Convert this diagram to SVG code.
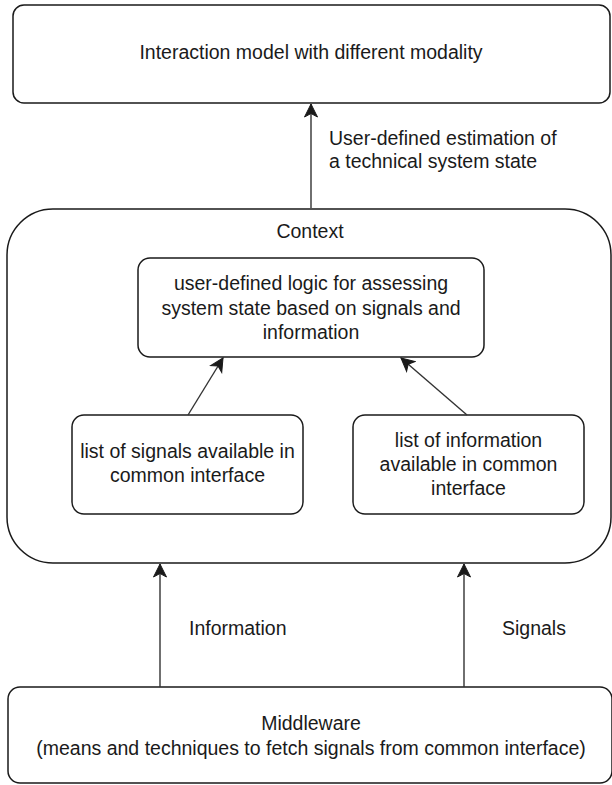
<svg xmlns="http://www.w3.org/2000/svg" width="612" height="785" viewBox="0 0 612 785">
  <defs>
    <style>
      .box { fill: #ffffff; stroke: #1a1a1a; stroke-width: 1.5; }
      .t { font-family: "Liberation Sans", Arial, Helvetica, sans-serif; font-size: 19.5px; fill: #1a1a1a; }
      .c { text-anchor: middle; }
      .edge { fill: none; stroke: #333333; stroke-width: 1.4; }
    </style>
    <marker id="arrow" markerUnits="userSpaceOnUse" markerWidth="16" markerHeight="16" viewBox="-14 -8 16 16" refX="0" refY="0" orient="auto">
      <path d="M0,0 L-13,-6.5 L-9.5,0 L-13,6.5 Z" fill="#1a1a1a" stroke="#1a1a1a" stroke-width="1"/>
    </marker>
  </defs>
  <rect width="612" height="785" fill="#ffffff"/>

  <g id="interaction-model">
    <rect class="box" x="13" y="5" width="597" height="98" rx="11"/>
    <text class="t c" x="311" y="59">Interaction model with different modality</text>
  </g>

  <g id="context">
    <rect class="box" x="7" y="209" width="604" height="354" rx="46"/>
    <text class="t c" x="310" y="238">Context</text>
  </g>

  <g id="logic">
    <rect class="box" x="138" y="258" width="346" height="99" rx="12"/>
    <text class="t c" x="311" y="290">user-defined logic for assessing</text>
    <text class="t c" x="311" y="314.5">system state based on signals and</text>
    <text class="t c" x="311" y="339">information</text>
  </g>

  <g id="signals-list">
    <rect class="box" x="72" y="415" width="231" height="99" rx="12"/>
    <text class="t c" x="187.5" y="458">list of signals available in</text>
    <text class="t c" x="187.5" y="482">common interface</text>
  </g>

  <g id="information-list">
    <rect class="box" x="353" y="415" width="231" height="99" rx="12"/>
    <text class="t c" x="468.5" y="447">list of information</text>
    <text class="t c" x="468.5" y="471">available in common</text>
    <text class="t c" x="468.5" y="495">interface</text>
  </g>

  <g id="middleware">
    <rect class="box" x="8" y="687" width="604" height="96" rx="12"/>
    <text class="t c" x="311" y="730">Middleware</text>
    <text class="t c" x="311" y="755">(means and techniques to fetch signals from common interface)</text>
  </g>

  <g id="connectors">
    <line class="edge" x1="311" y1="208" x2="311" y2="104" marker-end="url(#arrow)"/>
    <line class="edge" x1="188" y1="415" x2="223" y2="358" marker-end="url(#arrow)"/>
    <line class="edge" x1="467" y1="415" x2="401" y2="358" marker-end="url(#arrow)"/>
    <line class="edge" x1="160" y1="687" x2="160" y2="564" marker-end="url(#arrow)"/>
    <line class="edge" x1="464" y1="687" x2="464" y2="564" marker-end="url(#arrow)"/>
    <text class="t" x="329" y="145">User-defined estimation of</text>
    <text class="t" x="329" y="168">a technical system state</text>
    <text class="t" x="189" y="635">Information</text>
    <text class="t" x="502" y="635">Signals</text>
  </g>
</svg>
